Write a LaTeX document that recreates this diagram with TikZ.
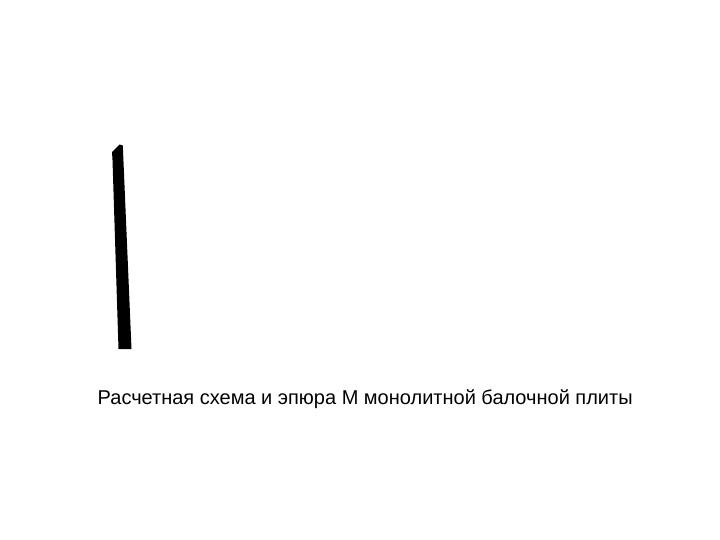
\documentclass[tikz,border=0pt]{standalone}
\usepackage{fontspec}
\setmainfont{Liberation Sans}
\begin{document}
\begin{tikzpicture}[x=1pt,y=-1pt,
  capt/.style={anchor=base west,inner sep=0pt,font=\fontsize{20}{24}\selectfont}]
\useasboundingbox[fill=white] (0,0) rectangle (720,540);
\fill[black] (112,152) -- (119.5,144.5) -- (122.8,145.5) -- (131.5,349) -- (118.5,349) -- (112.5,160) -- cycle;
\node[capt] (caption) at (97.5,404) {Расчетная схема и эпюра М монолитной балочной плиты};
\end{tikzpicture}
\end{document}
